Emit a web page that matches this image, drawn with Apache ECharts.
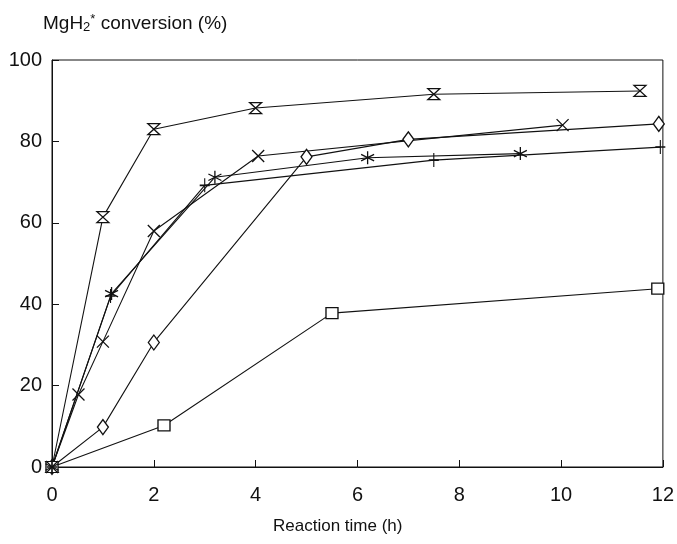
<!DOCTYPE html>
<html>
<head>
<meta charset="utf-8">
<script src="https://cdn.jsdelivr.net/npm/echarts@6/dist/echarts.min.js"></script>
<style>
  html, body { margin: 0; padding: 0; background: #fff; }
  #chart { width: 677px; height: 544px; }
</style>
</head>
<body>
<div id="chart"></div>
<script>
// values
var xTicks = [0, 2, 4, 6, 8, 10, 12];
var yTicks = [0, 20, 40, 60, 80, 100];

var hourglassX = [0, 1.0, 2.0, 4.0, 7.5, 11.55];
var hourglassY = [0, 61.4, 83.0, 88.2, 91.6, 92.4];

var diamondX = [0, 1.0, 2.0, 5.0, 7.0, 11.92];
var diamondY = [0, 9.8, 30.6, 76.2, 80.5, 84.3];

var squareX = [0, 2.2, 5.5, 11.9];
var squareY = [0, 10.2, 37.8, 43.8];

var crossX = [0, 0.52, 1.0, 2.0, 4.05, 10.03];
var crossY = [0, 17.8, 30.8, 58.0, 76.4, 84.0];

var starX = [0, 1.17, 3.2, 6.2, 9.2];
var starY = [0, 42.6, 71.2, 76.0, 77.0];

var plusX = [0, 1.15, 3.0, 7.5, 11.95];
var plusY = [0, 42.0, 69.2, 75.4, 78.6];

function zip(xs, ys) {
  return xs.map(function (x, i) { return [x, ys[i]]; });
}

var chart = echarts.init(document.getElementById('chart'));

var FONT = 'Liberation Sans';

function mk(name, xs, ys, symbol, size, filled) {
  return {
    name: name,
    type: 'line',
    data: zip(xs, ys),
    symbol: symbol,
    symbolSize: size,
    symbolKeepAspect: false,
    clip: false,
    lineStyle: { color: '#111', width: 1.1 },
    itemStyle: {
      color: filled ? '#fff' : 'rgba(0,0,0,0)',
      borderColor: '#111',
      borderWidth: 1.3
    },
    showAllSymbol: true,
    animation: false
  };
}

var option = {
  backgroundColor: '#fff',
  animation: false,
  title: {
    text: 'MgH{sub|2}{sup|*} conversion (%)',
    left: 38,
    top: 8,
    textStyle: {
      fontFamily: FONT,
      fontSize: 19,
      fontWeight: 'normal',
      color: '#111',
      rich: {
        sub: { fontFamily: FONT, fontSize: 13, color: '#111', verticalAlign: 'bottom', padding: [8, 0, 0, 0] },
        sup: { fontFamily: FONT, fontSize: 13, color: '#111', verticalAlign: 'top', padding: [0, 0, 8, 0] }
      }
    }
  },
  graphic: [{
    type: 'text',
    left: 273,
    top: 518,
    style: { text: 'Reaction time (h)', fontFamily: FONT, fontSize: 17, fill: '#111' }
  }],
  grid: {
    left: 52,
    right: 13,
    top: 60,
    bottom: 77,
    show: true,
    borderColor: '#111',
    borderWidth: 1
  },
  xAxis: {
    type: 'value',
    min: 0,
    max: 12,
    interval: 2,
    axisLine: { lineStyle: { color: '#111', width: 1 } },
    axisTick: { inside: true, length: 7, lineStyle: { color: '#111' } },
    axisLabel: {
      fontFamily: FONT, fontSize: 20, color: '#111', margin: 18,
      formatter: function (v) { return xTicks.indexOf(v) >= 0 ? String(v) : ''; }
    },
    splitLine: { show: false }
  },
  yAxis: {
    type: 'value',
    min: 0,
    max: 100,
    interval: 20,
    axisLine: { show: true, lineStyle: { color: '#111', width: 1 } },
    axisTick: { show: true, inside: true, length: 7, lineStyle: { color: '#111' } },
    axisLabel: {
      fontFamily: FONT, fontSize: 20, color: '#111', margin: 10,
      formatter: function (v) { return yTicks.indexOf(v) >= 0 ? String(v) : ''; }
    },
    splitLine: { show: false }
  },
  series: [
    mk('hourglass', hourglassX, hourglassY, 'path://M0,0 L10,0 L0,10 L10,10 Z', [12, 11], true),
    mk('diamond', diamondX, diamondY, 'diamond', [11, 15], true),
    mk('square', squareX, squareY, 'rect', [12, 11], true),
    mk('cross', crossX, crossY, 'path://M0,0 L10,10 M10,0 L0,10', [12, 12], false),
    mk('star', starX, starY, 'path://M5,0 L5,10 M0,2.5 L10,7.5 M10,2.5 L0,7.5', [13, 13], false),
    mk('plus', plusX, plusY, 'path://M5,0 L5,10 M1,5 L9,5', [10, 14], false)
  ]
};

chart.setOption(option);
</script>
</body>
</html>
